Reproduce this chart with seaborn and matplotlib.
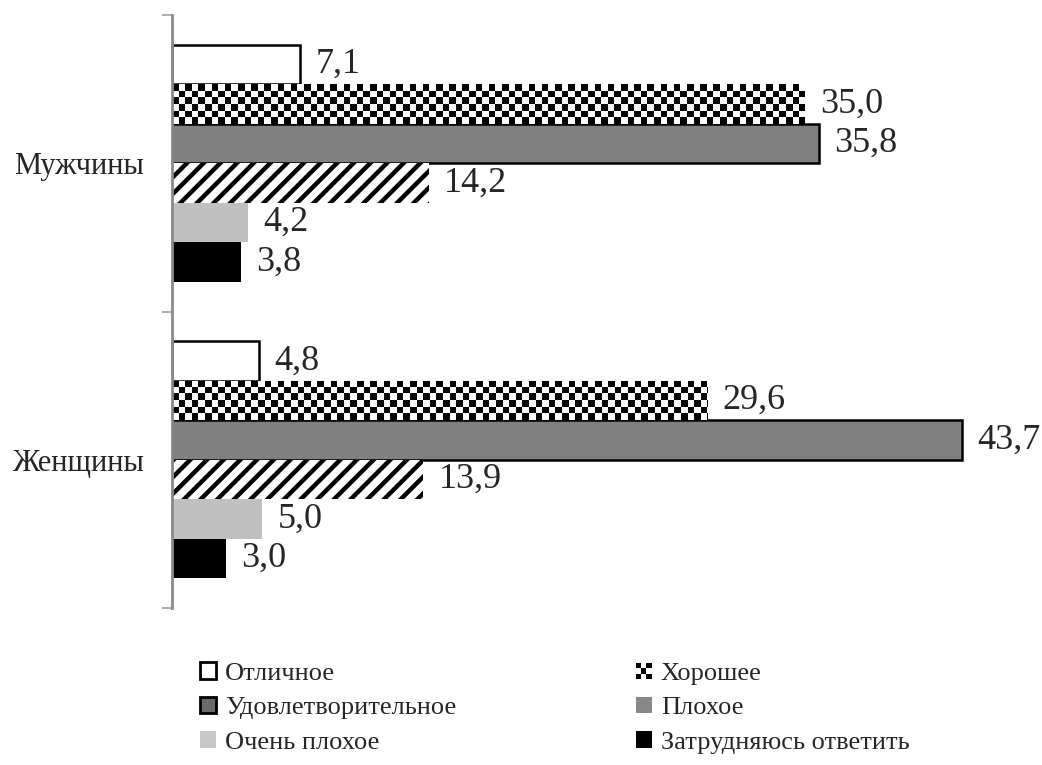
import numpy as np
import pandas as pd
import matplotlib
matplotlib.use("Agg")
import matplotlib.pyplot as plt
import seaborn as sns
from matplotlib.patches import Patch, Rectangle
from matplotlib.legend_handler import HandlerBase

# Data (%)
groups = ["Мужчины", "Женщины"]
ratings = ["Отличное", "Хорошее", "Удовлетворительное", "Плохое",
           "Очень плохое", "Затрудняюсь ответить"]
men = [7.1, 35.0, 35.8, 14.2, 4.2, 3.8]
women = [4.8, 29.6, 43.7, 13.9, 5.0, 3.0]

colors = ["white", "white", "#808080", "white", "#c0c0c0", "black"]

df = pd.DataFrame({
    "group": [g for g in groups for _ in ratings],
    "rating": ratings * len(groups),
    "value": men + women,
})

sns.set_style("white")
plt.rcParams["font.family"] = ["Liberation Serif", "DejaVu Serif"]
plt.rcParams["hatch.linewidth"] = 3.2

fig = plt.figure(figsize=(10.42, 7.65), dpi=100)
ax = fig.add_axes([172 / 1042, 1 - 608 / 765, 813.6 / 1042, 593 / 765])

sns.barplot(data=df, x="value", y="group", hue="rating", hue_order=ratings,
            palette=dict(zip(ratings, colors)), orient="h", width=0.8,
            saturation=1, errorbar=None, legend=False, ax=ax)

ax.set_xlim(0, 45)
ax.set_ylim(1.5, -0.5)

# styling per series
for i, cont in enumerate(ax.containers):
    for bar in cont:
        if i in (0, 2):
            bar.set_edgecolor("black")
            bar.set_linewidth(1.8)
        elif i == 3:
            bar.set_edgecolor("black")
            bar.set_linewidth(0)
            bar.set_hatch("//")
        else:
            bar.set_linewidth(0)

# checkerboard fill for "Хорошее"
sq = 6.6
for bar in ax.containers[1]:
    x0, y0, w, h = bar.get_x(), bar.get_y(), bar.get_width(), bar.get_height()
    (px0, py0), (px1, py1) = ax.transData.transform([(x0, y0), (x0 + w, y0 + h)])
    ppx = abs(px1 - px0) / w
    ny = int(round(abs(py1 - py0) / sq))
    nx = int(abs(px1 - px0) / sq) + 1
    pattern = np.add.outer(np.arange(ny), np.arange(nx)) % 2
    im = ax.imshow(pattern, cmap="gray", vmin=0, vmax=1, interpolation="nearest",
                   aspect="auto", extent=(x0, x0 + nx * sq / ppx, y0 + h, y0),
                   zorder=bar.get_zorder() + 0.1)
    im.set_clip_path(bar)

ax.set_xlim(0, 45)
ax.set_ylim(1.5, -0.5)

for cont in ax.containers:
    ax.bar_label(cont, labels=[f"{v:.1f}".replace(".", ",") for v in cont.datavalues],
                 padding=11, fontsize=26)

# axes look
for s in ["top", "right", "bottom"]:
    ax.spines[s].set_visible(False)
ax.spines["left"].set_color("#8a8a8a")
ax.spines["left"].set_linewidth(2)
ax.set_xticks([])
ax.set_xlabel("")
ax.set_ylabel("")
ax.set_yticks([0, 1])
ax.set_yticklabels(groups, fontsize=22)
ax.tick_params(axis="y", which="major", length=0, pad=20)
ax.set_yticks([-0.5, 0.5, 1.5], minor=True)
ax.tick_params(axis="y", which="minor", left=True, length=7, width=1.5,
               color="#b0b0b0")


class CheckerHandler(HandlerBase):
    def create_artists(self, legend, orig_handle, xdescent, ydescent, width,
                       height, fontsize, trans):
        n = 3
        c = min(width, height) / n
        arts = []
        for i in range(n):
            for j in range(n):
                if (i + j) % 2 == 0:
                    arts.append(Rectangle((-xdescent + i * c, -ydescent + j * c), c, c,
                                          facecolor="black", edgecolor="none",
                                          transform=trans))
        return arts


checker_handle = Patch(facecolor="white")
legend_handles = {
    "Отличное": Patch(facecolor="white", edgecolor="black", linewidth=2),
    "Хорошее": checker_handle,
    "Удовлетворительное": Patch(facecolor="#6a6a6a", edgecolor="black", linewidth=2),
    "Плохое": Patch(facecolor="#888888", edgecolor="none"),
    "Очень плохое": Patch(facecolor="#c8c8c8", edgecolor="none"),
    "Затрудняюсь ответить": Patch(facecolor="black", edgecolor="none"),
}
# column-major order so the legend reads row by row
order = [ratings[0], ratings[2], ratings[4], ratings[1], ratings[3], ratings[5]]
fig.legend([legend_handles[r] for r in order], order,
           loc="center left", bbox_to_anchor=(200 / 1042, 1 - 708 / 765),
           ncol=2, frameon=False, fontsize=19, handlelength=0.6, handleheight=0.6,
           handletextpad=0.35, columnspacing=6.8, labelspacing=0.45,
           borderpad=0, borderaxespad=0,
           handler_map={checker_handle: CheckerHandler()})

fig.savefig("out.png", dpi=100, facecolor="white")
